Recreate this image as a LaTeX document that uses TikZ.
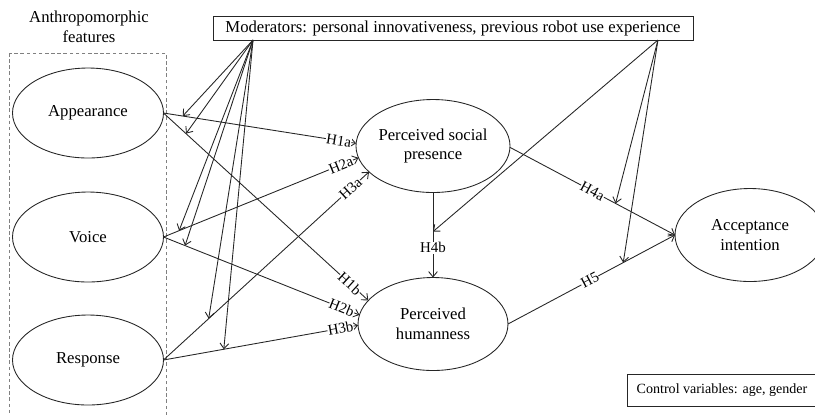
\documentclass[tikz,border=0pt]{standalone}
\usepackage{fontspec}
\setmainfont{Liberation Serif}
\usetikzlibrary{arrows.meta,positioning,shapes}

\begin{document}
\begin{tikzpicture}[x=0.02cm, y=-0.02cm, line width=0.5pt, draw=black!85, >={Straight Barb[length=3pt,width=5pt]},
  feat node/.style={ellipse,draw,minimum width=3.02cm,minimum height=1.8cm,inner sep=0pt,outer sep=0pt,font=\fontsize{9.5}{11.3}\selectfont},
  main node/.style={ellipse,draw,minimum width=3cm,minimum height=1.86cm,inner sep=0pt,outer sep=0pt,align=center,font=\fontsize{9.5}{11.3}\selectfont},
  box node/.style={rectangle,draw,inner sep=0pt,outer sep=0pt},
  hlab/.style={sloped,fill=white,inner sep=0.2pt,font=\fontsize{8.5}{9}\selectfont,pos=0.91},
  mlab/.style={fill=white,inner sep=0.4pt,font=\fontsize{8.5}{9}\selectfont}]
\useasboundingbox (0,0) rectangle (815,414);
\clip (0,0) rectangle (815,414);
\begin{scope}[every node/.style={font=\fontsize{9.5}{11.3}\selectfont}]
\node[align=center] (title) at (89,27) {Anthropomorphic\\features};
\draw[gray, dashed, dash pattern=on 2pt off 1.5pt] (9,53) rectangle (166,420);
\node[feat node] (app) at (88,113) {Appearance};
\node[feat node] (voice) at (88,237) {Voice};
\node[feat node] (resp) at (88,360) {Response};
\node[main node] (psp) at (433,146) {Perceived social\\presence};
\node[main node] (ph) at (433,324) {Perceived\\humanness};
\node[main node] (ai) at (750,235) {Acceptance\\intention};
\node[box node,minimum width=9.6cm,minimum height=0.48cm] (mod) at (453,28) {Moderators: personal innovativeness, previous robot use experience};
\node[box node,minimum width=3.8cm,minimum height=0.64cm,font=\fontsize{8}{9}\selectfont] (ctrl) at (722,390) {Control variables: age, gender};
\coordinate (ml) at ([xshift=0.8cm]mod.south west);
\coordinate (mr) at ([xshift=-0.7cm]mod.south east);
\end{scope}
% hypotheses
\begin{scope}[->]
\draw (app.east) -- coordinate[pos=0.10] (m1a) node[hlab]{H1a} (psp.178);
\draw (app.east) -- coordinate[pos=0.11] (m1b) node[hlab]{H1b} (ph.160);
\draw (voice.east) -- coordinate[pos=0.08] (m2a) node[hlab]{H2a} (psp.189);
\draw (voice.east) -- coordinate[pos=0.11] (m2b) node[hlab]{H2b} (ph.173);
\draw (resp.east) -- coordinate[pos=0.22] (m3a) node[hlab]{H3a} (psp.202);
\draw (resp.east) -- coordinate[pos=0.31] (m3b) node[hlab]{H3b} (ph.181);
\draw (psp.359) -- coordinate[pos=0.64] (m4a) node[hlab,pos=0.5]{H4a} (ai.west);
\draw (psp.south) -- coordinate[pos=0.46] (m4b) node[mlab,pos=0.65]{H4b} (ph.north);
\draw (ph.0) -- coordinate[pos=0.69] (m5) node[hlab,pos=0.49]{H5} (ai.west);
\end{scope}
% moderating effects
\begin{scope}[->]
\foreach \t in {m1a,m1b,m2a,m2b,m3a,m3b}
  \draw (ml) -- (\t);
\foreach \t in {m4a,m4b,m5}
  \draw (mr) -- (\t);
\end{scope}
\end{tikzpicture}
\end{document}
